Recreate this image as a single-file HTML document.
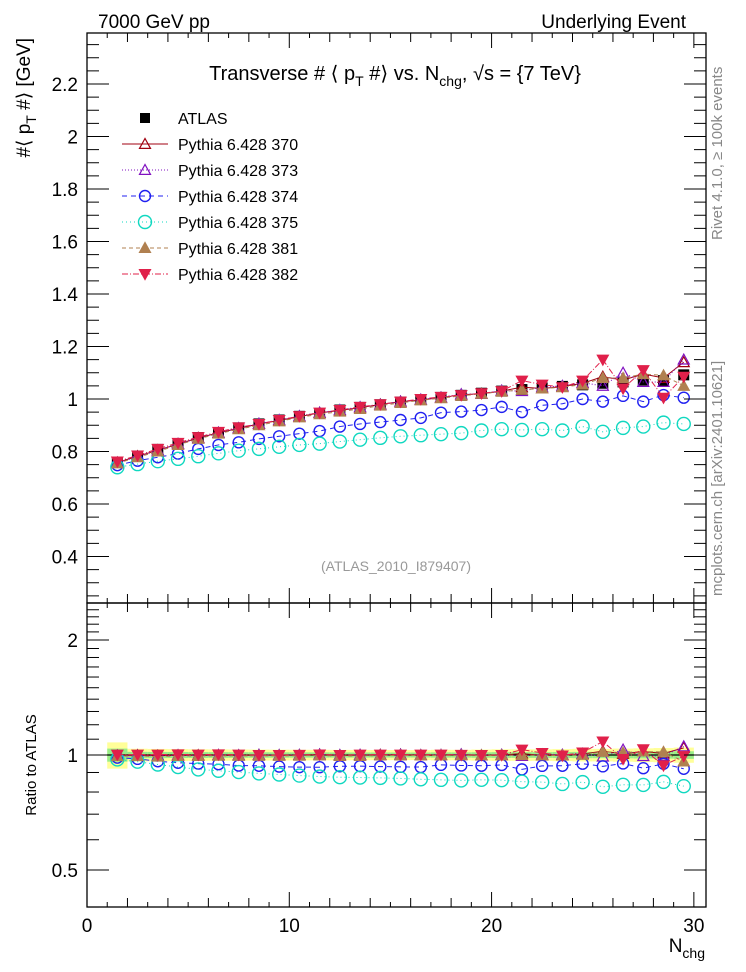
<!DOCTYPE html>
<html><head><meta charset="utf-8">
<style>
html,body{margin:0;padding:0;background:#fff;}
svg{display:block;font-family:"Liberation Sans",Arial,sans-serif;}
</style></head>
<body>
<svg id="chart" width="746" height="972" viewBox="0 0 746 972" xmlns="http://www.w3.org/2000/svg">
<text x="98" y="28" font-size="19">7000 GeV pp</text>
<text x="686" y="28" font-size="19" text-anchor="end">Underlying Event</text>
<text x="395" y="80" font-size="20" text-anchor="middle">Transverse # ⟨ p<tspan font-size="14" dy="6">T</tspan><tspan dy="-6"> #⟩ vs. N</tspan><tspan font-size="14" dy="6">chg</tspan><tspan dy="-6">, √s = {7 TeV}</tspan></text>
<text transform="translate(30,38) rotate(-90)" font-size="19" text-anchor="end">#⟨ p<tspan font-size="14" dy="6">T</tspan><tspan dy="-6"> #⟩ [GeV]</tspan></text>
<text transform="translate(36,765) rotate(-90)" font-size="15" text-anchor="middle">Ratio to ATLAS</text>
<text x="705" y="952" font-size="19" text-anchor="end">N<tspan font-size="14" dy="6">chg</tspan></text>
<text transform="translate(722,240) rotate(-90)" font-size="15" fill="#888">Rivet 4.1.0, ≥ 100k events</text>
<text transform="translate(722,596) rotate(-90)" font-size="15" fill="#888">mcplots.cern.ch [arXiv:2401.10621]</text>
<text x="396" y="571" font-size="14" fill="#999" text-anchor="middle">(ATLAS_2010_I879407)</text>
<g id="bands"></g>
<g id="marks"></g>
<g id="axes"></g>
<g id="legend"></g>
</svg>
<script>
const xCenters=[1.5,2.5,3.5,4.5,5.5,6.5,7.5,8.5,9.5,10.5,11.5,12.5,13.5,14.5,15.5,16.5,17.5,18.5,19.5,20.5,21.5,22.5,23.5,24.5,25.5,26.5,27.5,28.5,29.5];
const atlas=[0.760,0.783,0.808,0.830,0.853,0.872,0.890,0.905,0.920,0.934,0.945,0.958,0.968,0.978,0.988,0.998,1.006,1.014,1.022,1.030,1.036,1.042,1.048,1.054,1.060,1.065,1.072,1.070,1.092];
const atlasErr=[0.060,0.030,0.030,0.030,0.030,0.030,0.030,0.030,0.030,0.030,0.030,0.030,0.030,0.030,0.030,0.030,0.032,0.032,0.034,0.036,0.036,0.036,0.038,0.040,0.040,0.042,0.044,0.046,0.050];
const s370=[0.758,0.782,0.805,0.828,0.852,0.871,0.888,0.905,0.918,0.933,0.947,0.956,0.967,0.979,0.990,0.996,1.005,1.016,1.020,1.030,1.045,1.040,1.047,1.060,1.085,1.072,1.095,1.080,1.140];
const s373=[0.757,0.780,0.804,0.829,0.850,0.872,0.889,0.906,0.920,0.935,0.948,0.958,0.969,0.978,0.990,0.998,1.006,1.018,1.020,1.032,1.030,1.045,1.050,1.062,1.050,1.100,1.065,1.065,1.150];
const s374=[0.748,0.765,0.778,0.792,0.810,0.825,0.835,0.848,0.858,0.868,0.878,0.895,0.905,0.912,0.920,0.928,0.948,0.952,0.958,0.970,0.950,0.976,0.982,1.000,0.990,1.012,0.990,1.015,1.005];
const s375=[0.740,0.752,0.763,0.772,0.782,0.793,0.803,0.810,0.818,0.825,0.830,0.838,0.845,0.852,0.858,0.862,0.866,0.870,0.880,0.885,0.882,0.885,0.880,0.895,0.875,0.890,0.895,0.910,0.905];
const s381=[0.755,0.778,0.800,0.825,0.848,0.868,0.885,0.900,0.915,0.930,0.942,0.952,0.962,0.975,0.985,0.995,1.003,1.012,1.020,1.028,1.035,1.040,1.045,1.055,1.080,1.080,1.095,1.090,1.050];
const s382=[0.762,0.785,0.810,0.833,0.855,0.875,0.892,0.905,0.920,0.935,0.948,0.958,0.970,0.980,0.990,1.000,1.008,1.015,1.022,1.030,1.070,1.055,1.045,1.070,1.150,1.040,1.110,1.005,1.085];
const mainTicks=[0.4,0.6,0.8,1,1.2,1.4,1.6,1.8,2,2.2];
const mainTickLabels=["0.4","0.6","0.8","1","1.2","1.4","1.6","1.8","2","2.2"];
const ratioTicks=[0.5,1,2];
const ratioTickLabels=["0.5","1","2"];
const xTicks=[0,10,20,30];
const xTickLabels=["0","10","20","30"];
const seriesNames=["Pythia 6.428 370","Pythia 6.428 373","Pythia 6.428 374","Pythia 6.428 375","Pythia 6.428 381","Pythia 6.428 382"];

const NS="http://www.w3.org/2000/svg";
const L=87,R=706,T=33,MB=603,RB=907;
const xs=v=>L+v*(R-L)/30.6;
const ys=v=>399-(v-1)*262.5;
const rs=v=>755-Math.log10(v)/Math.log10(2)*115;
function mk(tag,attrs,parent){const e=document.createElementNS(NS,tag);for(const k in attrs)e.setAttribute(k,attrs[k]);parent.appendChild(e);return e;}
const gB=document.getElementById('bands'),gM=document.getElementById('marks'),gA=document.getElementById('axes'),gL=document.getElementById('legend');

xCenters.forEach((x,i)=>{
  const e=atlasErr[i]/atlas[i];
  const y=mk('rect',{x:xs(x-0.5),y:rs(1+e),width:xs(x+0.5)-xs(x-0.5),height:rs(1-e)-rs(1+e),fill:'#ffff99'},gB);
  
  
  const g=mk('rect',{x:xs(x-0.5),y:rs(1+e/2),width:xs(x+0.5)-xs(x-0.5),height:rs(1-e/2)-rs(1+e/2),fill:'#99ee88'},gB);
  
  
});
mk('line',{x1:xs(1),x2:xs(30),y1:rs(1),y2:rs(1),stroke:'#000','stroke-width':1.2},gB);

const styles=[
 {c:'#a00010',m:'tri',fill:'none',dash:''},
 {c:'#8010c0',m:'tri',fill:'none',dash:'1,2'},
 {c:'#2020f0',m:'circ',fill:'none',dash:'5,4'},
 {c:'#10d8c0',m:'circ',fill:'none',dash:'1,3',big:true},
 {c:'#b08050',m:'tri',fill:'#b08050',dash:'4,3'},
 {c:'#e0204a',m:'itri',fill:'#e0204a',dash:'6,2,1,2'}
];
const series=[s370,s373,s374,s375,s381,s382];

function marker(m,cx,cy,st,parent,sz){
  sz=sz||5.5;
  if(m==='tri'){return mk('polygon',{points:`${cx},${cy-sz} ${cx-sz},${cy+sz*0.8} ${cx+sz},${cy+sz*0.8}`,fill:st.fill,stroke:st.c,'stroke-width':1.2},parent);}
  if(m==='itri'){return mk('polygon',{points:`${cx},${cy+sz} ${cx-sz},${cy-sz*0.8} ${cx+sz},${cy-sz*0.8}`,fill:st.fill,stroke:st.c,'stroke-width':1.2},parent);}
  if(m==='circ'){return mk('circle',{cx:cx,cy:cy,r:st.big?6.5:5.5,fill:'none',stroke:st.c,'stroke-width':1.4},parent);}
}

xCenters.forEach((x,i)=>{
  const r=mk('rect',{x:xs(x)-5.5,y:ys(atlas[i])-5.5,width:11,height:11,fill:'#000'},gM);
  
  
});
series.forEach((s,k)=>{
  const st=styles[k];
  let d='';
  xCenters.forEach((x,i)=>{d+=(i?'L':'M')+xs(x)+','+ys(s[i]);});
  const p=mk('path',{d:d,fill:'none',stroke:st.c,'stroke-width':1,'stroke-dasharray':st.dash},gM);
  
  
  let dr='';
  xCenters.forEach((x,i)=>{dr+=(i?'L':'M')+xs(x)+','+rs(s[i]/atlas[i]);});
  const pr=mk('path',{d:dr,fill:'none',stroke:st.c,'stroke-width':1,'stroke-dasharray':st.dash},gM);
  
  
  xCenters.forEach((x,i)=>{
    const a=marker(st.m,xs(x),ys(s[i]),st,gM);
    
    
    const b=marker(st.m,xs(x),rs(s[i]/atlas[i]),st,gM);
    
    
  });
});

mk('rect',{x:L,y:T,width:R-L,height:MB-T,fill:'none',stroke:'#000','stroke-width':1.3},gA);
mk('rect',{x:L,y:MB,width:R-L,height:RB-MB,fill:'none',stroke:'#000','stroke-width':1.3},gA);
for(let v=0;v<=30;v++){
  const len=v%10===0?15:(v%2===0?9:5);
  const x=xs(v);
  [[T,1],[MB,-1],[MB,1],[RB,-1]].forEach(([y0,dir])=>mk('line',{x1:x,x2:x,y1:y0,y2:y0+dir*len,stroke:'#000','stroke-width':1},gA));
}
xTicks.forEach((v,i)=>{const t=mk('text',{x:xs(v),y:932,'font-size':19,'text-anchor':'middle'},gA);t.textContent=xTickLabels[i];
  });
for(let k=5;k<=47;k++){
  const v=k*0.05;const y=ys(v);if(y<T||y>MB)continue;
  const len=(k%4===0)?22:12;
  mk('line',{x1:L,x2:L+len,y1:y,y2:y,stroke:'#000','stroke-width':1},gA);
  mk('line',{x1:R,x2:R-len,y1:y,y2:y,stroke:'#000','stroke-width':1},gA);
}
mainTicks.forEach((v,i)=>{const t=mk('text',{x:78,y:ys(v)+7,'font-size':19,'text-anchor':'end'},gA);t.textContent=mainTickLabels[i];
  });
const rmin=[0.4,0.6,0.7,0.8,0.9,1.1,1.2,1.3,1.4,1.5,1.6,1.7,1.8,1.9,2.1,2.2,2.3,2.4,2.5];
rmin.forEach(v=>{const y=rs(v);mk('line',{x1:L,x2:L+12,y1:y,y2:y,stroke:'#000'},gA);mk('line',{x1:R,x2:R-12,y1:y,y2:y,stroke:'#000'},gA);});
ratioTicks.forEach((v,i)=>{const y=rs(v);mk('line',{x1:L,x2:L+22,y1:y,y2:y,stroke:'#000'},gA);mk('line',{x1:R,x2:R-22,y1:y,y2:y,stroke:'#000'},gA);
  const t=mk('text',{x:78,y:y+7,'font-size':19,'text-anchor':'end'},gA);t.textContent=ratioTickLabels[i];
  });

const ly0=118,ldy=26;
const la=mk('rect',{x:140,y:ly0-5,width:10,height:10,fill:'#000'},gL);

const lt=mk('text',{x:178,y:ly0+6,'font-size':16},gL);lt.textContent='ATLAS';

seriesNames.forEach((n,k)=>{
  const st=styles[k];const y=ly0+(k+1)*ldy;
  mk('line',{x1:122,x2:168,y1:y,y2:y,stroke:st.c,'stroke-width':1,'stroke-dasharray':st.dash},gL);
  const m=marker(st.m,145,y,st,gL);
  
  const t=mk('text',{x:178,y:y+6,'font-size':16},gL);t.textContent=n;
  
});
</script>
</body></html>
